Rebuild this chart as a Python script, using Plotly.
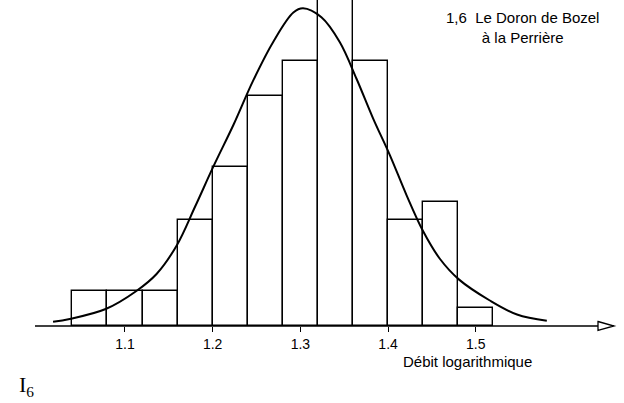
import plotly.graph_objects as go

# ---- data ----
bin_left = [1.04, 1.08, 1.12, 1.16, 1.20, 1.24, 1.28, 1.32, 1.36, 1.40, 1.44, 1.48]
bin_width = 0.04
counts = [2, 2, 2, 6, 9, 13, 15, 20, 15, 6, 7, 1]

curve_x = [1.018, 1.037, 1.078, 1.113, 1.136, 1.159, 1.180, 1.201, 1.224,
           1.246, 1.269, 1.292, 1.303, 1.324, 1.345, 1.364, 1.383, 1.402, 1.421,
           1.440, 1.459, 1.481, 1.516, 1.547, 1.581]
curve_y = [0.24, 0.40, 0.96, 1.98, 2.94, 4.55, 6.75, 9.03, 11.40,
           13.85, 16.05, 17.71, 17.95, 17.44, 16.03, 13.97, 11.72, 9.66, 7.40,
           5.35, 3.80, 2.62, 1.44, 0.65, 0.30]

tick_vals = [1.1, 1.2, 1.3, 1.4, 1.5]
tick_text = ["1.1", "1.2", "1.3", "1.4", "1.5"]

x_label = "Débit logarithmique"
title_text = "1,6  Le Doron de Bozel<br>à la Perrière"
corner_text = "I<sub>6</sub>"

# ---- layout geometry ----
W, H = 624, 403
mb = 77
x_range = [0.9575, 1.6690]
y_range = [0, 18.42]
px_per_x = W / (x_range[1] - x_range[0])
plot_h = H - mb


def xp(px):
    return px / W


def yp(py):
    return (plot_h - py) / plot_h


label_font = "Liberation Sans Narrow, Arial Narrow, Liberation Sans, Arial, sans-serif"

centers = [b + bin_width / 2 for b in bin_left]

fig = go.Figure()
fig.add_trace(go.Bar(
    x=centers, y=counts, width=bin_width,
    marker=dict(color="white", line=dict(color="black", width=1.4)),
    showlegend=False, hoverinfo="skip",
))
fig.add_trace(go.Scatter(
    x=curve_x, y=curve_y, mode="lines",
    line=dict(color="black", width=2, shape="spline", smoothing=1.0),
    showlegend=False, hoverinfo="skip", cliponaxis=False,
))

# axis line with hollow arrow head (paper coordinates, so nothing is clipped)
a0, a1, at = xp(35), xp(598), xp(614)
y0 = yp(plot_h)
ah = 4.5 / plot_h
fig.add_shape(type="line", xref="paper", yref="paper", x0=a0, x1=a1, y0=y0, y1=y0,
              line=dict(color="black", width=1.5), layer="above")
fig.add_shape(type="path", xref="paper", yref="paper",
              path=f"M {a1},{y0 + ah} L {at},{y0} L {a1},{y0 - ah} Z",
              line=dict(color="black", width=1.3), fillcolor="white", layer="above")

fig.update_layout(
    width=W, height=H,
    margin=dict(l=0, r=0, t=0, b=mb),
    paper_bgcolor="white", plot_bgcolor="white",
    bargap=0,
    xaxis=dict(range=x_range, showgrid=False, zeroline=False, showline=False,
               tickmode="array", tickvals=tick_vals, ticktext=tick_text,
               ticks="outside", ticklen=5, tickwidth=1.3, tickcolor="black",
               tickfont=dict(family=label_font, size=14, color="black")),
    yaxis=dict(range=y_range, visible=False),
    annotations=[
        dict(text=x_label, x=xp(467), y=yp(361), xref="paper", yref="paper",
             xanchor="center", yanchor="middle",
             showarrow=False, font=dict(family=label_font, size=15, color="black")),
        dict(text=title_text, x=xp(522), y=yp(28), xref="paper", yref="paper",
             xanchor="center", yanchor="middle",
             showarrow=False, align="center",
             font=dict(family=label_font, size=15, color="black")),
        dict(text=corner_text, x=xp(26), y=yp(386), xref="paper", yref="paper",
             xanchor="center", yanchor="middle",
             showarrow=False,
             font=dict(family="Liberation Serif, DejaVu Serif, serif", size=22, color="black")),
    ],
)

fig.write_html("out.html", config={"displayModeBar": False},
               post_script="document.body.style.margin='0';")
